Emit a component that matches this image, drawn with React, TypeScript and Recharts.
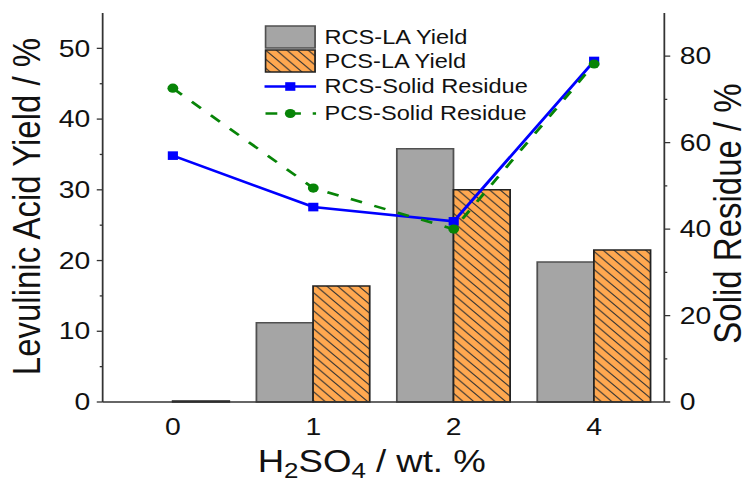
import React from 'react';
import { ComposedChart, Bar, Line, XAxis, YAxis, Legend, Label } from 'recharts';

// H2SO4 loading (wt. %) on the x axis
const categories = ['0', '1', '2', '4'];
// levulinic acid yield, %, left axis
const rcsYield = [0, 11.2, 35.8, 19.8];
const pcsYield = [0.15, 16.4, 30.0, 21.5];
// solid residue, %, right axis
const rcsResidue = [57.0, 45.1, 41.8, 78.9];
const pcsResidue = [72.6, 49.5, 40.0, 78.2];

const yieldTicks = [0, 5, 10, 15, 20, 25, 30, 35, 40, 45, 50];
const residueTicks = [0, 10, 20, 30, 40, 50, 60, 70, 80];
const edgeTicks = [0, 1, 2, 3, 4];

const data = categories.map((acid, i) => ({
  acid,
  rcsYield: rcsYield[i],
  pcsYield: pcsYield[i],
  rcsResidue: rcsResidue[i],
  pcsResidue: pcsResidue[i],
}));

const FONT = '"Liberation Sans", Arial, sans-serif';
// the original figure is a bit wider than tall-proportioned text would give
const STRETCH = 1.18;
const W = 636;
const H = 483;

const GRAY = '#A5A5A5';
const ORANGE = '#FFA850';
const BLUE = '#0000FF';
const GREEN = '#078407';
const AXIS = '#333';

const Hatch = ({ id }: { id: string }) => (
  <defs>
    <pattern id={id} patternUnits="userSpaceOnUse" width={9} height={9}>
      <rect width={9} height={9} fill={ORANGE} />
      <path d="M0,0 L9,9 M-2,7 L2,11 M7,-2 L11,2" stroke="#333" strokeWidth={1} />
    </pattern>
  </defs>
);

const LeftTick = (props: any) => {
  const { x, y, payload } = props;
  const major = payload.value % 10 === 0;
  return (
    <g>
      <line x1={x} x2={x - (major ? 5 : 2.5)} y1={y} y2={y} stroke={AXIS} strokeWidth={1.3} />
      {major && (
        <text x={x - 10.5} y={y} textAnchor="end" dominantBaseline="central" fontSize={24} fill="#111" fontFamily={FONT}>
          {payload.value}
        </text>
      )}
    </g>
  );
};

const RightTick = (props: any) => {
  const { x, y, payload } = props;
  const major = payload.value % 20 === 0;
  return (
    <g>
      <line x1={x} x2={x + (major ? 5 : 2.5)} y1={y} y2={y} stroke={AXIS} strokeWidth={1.3} />
      {major && (
        <text x={x + 13} y={y} textAnchor="start" dominantBaseline="central" fontSize={24} fill="#111" fontFamily={FONT}>
          {payload.value}
        </text>
      )}
    </g>
  );
};

const XTitle = (props: any) => {
  const vb = props.viewBox;
  return (
    <text
      x={vb.x + vb.width / 2 - 10}
      y={vb.y + 70}
      textAnchor="middle"
      fontSize={31}
      fill="#111"
      fontFamily={FONT}
      style={{ whiteSpace: 'pre' }}
    >
      H<tspan fontSize={22} dy={6}>2</tspan>
      <tspan dy={-6}>SO</tspan>
      <tspan fontSize={22} dy={6}>4</tspan>
      <tspan dy={-6}> / wt. %</tspan>
    </text>
  );
};

const yTitle = (text: string, baseX: number, shiftY: number) => (props: any) => {
  const vb = props.viewBox;
  const cy = vb.y + vb.height / 2 + shiftY;
  return (
    <text
      transform={`translate(${vb.x + baseX},${cy}) rotate(-90)`}
      textAnchor="middle"
      fontSize={33}
      fill="#111"
      fontFamily={FONT}
    >
      {text}
    </text>
  );
};

const squareDot = (props: any) => {
  const { cx, cy, index } = props;
  return <rect key={`sq-${index}`} x={cx - 4.3} y={cy - 4.3} width={8.6} height={8.6} fill={BLUE} />;
};

const circleDot = (props: any) => {
  const { cx, cy, index } = props;
  return <circle key={`ci-${index}`} cx={cx} cy={cy} r={4.6} fill={GREEN} />;
};

const legendRows = [
  { name: 'RCS-LA Yield', kind: 'grayBar' },
  { name: 'PCS-LA Yield', kind: 'hatchBar' },
  { name: 'RCS-Solid Residue', kind: 'blueLine' },
  { name: 'PCS-Solid Residue', kind: 'greenLine' },
];

const LegendBox = () => (
  <div style={{ fontFamily: FONT, fontSize: 20, color: '#111' }}>
    {legendRows.map((r) => {
      const isBar = r.kind.endsWith('Bar');
      const h = isBar ? 24 : 27;
      return (
        <div key={r.name} style={{ display: 'flex', alignItems: 'center', height: h }}>
          <svg width={44} height={h} style={{ display: 'block' }}>
            {r.kind === 'hatchBar' && <Hatch id="hatchLegend" />}
            {r.kind === 'grayBar' && (
              <rect x={1} y={1} width={42} height={22} fill={GRAY} stroke="#505050" strokeWidth={1.5} />
            )}
            {r.kind === 'hatchBar' && (
              <rect x={1} y={1} width={42} height={22} fill="url(#hatchLegend)" stroke="#222" strokeWidth={1.5} />
            )}
            {r.kind === 'blueLine' && (
              <g>
                <line x1={0} x2={44} y1={h / 2} y2={h / 2} stroke={BLUE} strokeWidth={2.6} />
                <rect x={22 - 4.3} y={h / 2 - 4.3} width={8.6} height={8.6} fill={BLUE} />
              </g>
            )}
            {r.kind === 'greenLine' && (
              <g>
                <line x1={0} x2={44} y1={h / 2} y2={h / 2} stroke={GREEN} strokeWidth={2.6} strokeDasharray="10 10" strokeDashoffset={-1} />
                <circle cx={22} cy={h / 2} r={4.6} fill={GREEN} />
              </g>
            )}
          </svg>
          <span style={{ marginLeft: 7, whiteSpace: 'nowrap' }}>{r.name}</span>
        </div>
      );
    })}
  </div>
);

export default function App() {
  return (
    <div
      style={{
        position: 'absolute',
        left: 0,
        top: 0,
        width: W,
        height: H,
        background: '#fff',
        transform: `scaleX(${STRETCH})`,
        transformOrigin: '0 0',
      }}
    >
      <ComposedChart
        width={W}
        height={H}
        data={data}
        margin={{ top: 13, right: 0, bottom: 0, left: 0 }}
        barCategoryGap="9.5%"
        barGap={0}
      >
        <Hatch id="hatchBar" />
        <XAxis
          xAxisId="edge"
          type="number"
          domain={[0, 4]}
          ticks={edgeTicks}
          allowDataOverflow
          height={0}
          axisLine={false}
          tickSize={5}
          tickLine={{ stroke: AXIS, strokeWidth: 1.3 }}
          tickFormatter={() => ''}
        />
        <XAxis
          dataKey="acid"
          height={81}
          axisLine={{ stroke: AXIS, strokeWidth: 1.5 }}
          tickLine={false}
          tickSize={0}
          tickMargin={16}
          interval={0}
          tick={{ fontSize: 24, fill: '#111', fontFamily: FONT }}
        >
          <Label content={XTitle} />
        </XAxis>
        <YAxis
          yAxisId="left"
          width={87}
          domain={[0, 55]}
          ticks={yieldTicks}
          interval={0}
          axisLine={{ stroke: AXIS, strokeWidth: 1.5 }}
          tickLine={false}
          tickSize={0}
          tickMargin={0}
          tick={<LeftTick />}
        >
          <Label content={yTitle('Levulinic Acid Yield / %', 34, -1)} />
        </YAxis>
        <YAxis
          yAxisId="right"
          orientation="right"
          width={73}
          domain={[0, 90]}
          ticks={residueTicks}
          interval={0}
          axisLine={{ stroke: AXIS, strokeWidth: 1.5 }}
          tickLine={false}
          tickSize={0}
          tickMargin={0}
          tick={<RightTick />}
        >
          <Label content={yTitle('Solid Residue / %', 65, 6)} />
        </YAxis>
        <Bar
          yAxisId="left"
          dataKey="rcsYield"
          name="RCS-LA Yield"
          fill={GRAY}
          stroke="#505050"
          strokeWidth={1.5}
          isAnimationActive={false}
        />
        <Bar
          yAxisId="left"
          dataKey="pcsYield"
          name="PCS-LA Yield"
          fill="url(#hatchBar)"
          stroke="#222"
          strokeWidth={1.5}
          isAnimationActive={false}
        />
        <Line
          yAxisId="right"
          dataKey="rcsResidue"
          name="RCS-Solid Residue"
          type="linear"
          stroke={BLUE}
          strokeWidth={2.6}
          dot={squareDot}
          activeDot={false}
          isAnimationActive={false}
        />
        <Line
          yAxisId="right"
          dataKey="pcsResidue"
          name="PCS-Solid Residue"
          type="linear"
          stroke={GREEN}
          strokeWidth={2.6}
          strokeDasharray="10 11"
          dot={circleDot}
          activeDot={false}
          isAnimationActive={false}
        />
        <Legend
          layout="vertical"
          verticalAlign="middle"
          align="center"
          wrapperStyle={{ left: 224, top: 25, width: 'auto', height: 'auto' }}
          content={LegendBox}
        />
      </ComposedChart>
    </div>
  );
}
